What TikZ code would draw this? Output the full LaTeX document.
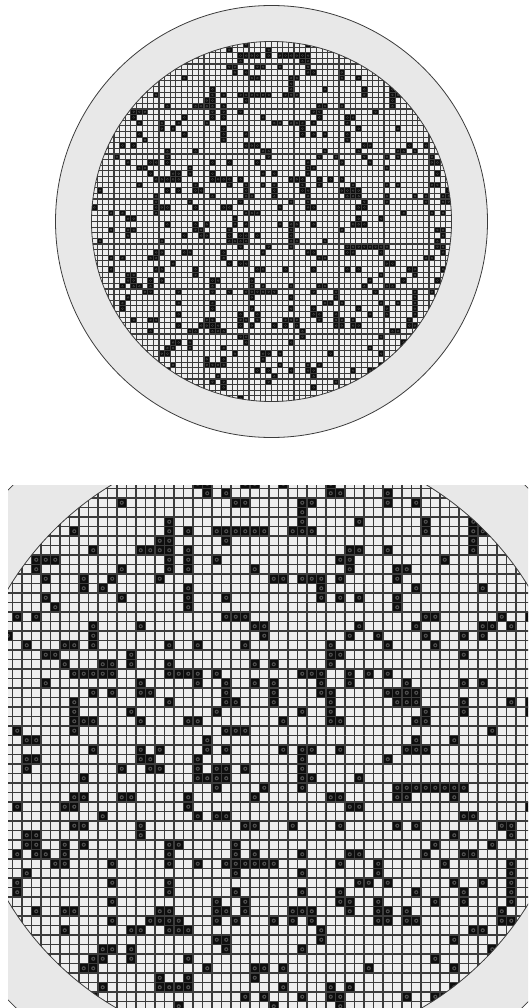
\documentclass[tikz,border=0pt]{standalone}
\definecolor{ringgray}{HTML}{E8E8E8}
\definecolor{cellgray}{HTML}{EEEEEE}
\definecolor{gridcol}{HTML}{3C3C3C}
\definecolor{dotcol}{HTML}{505050}
\tikzset{
  edgeline/.style={draw=gridcol, line width=0.8pt},
  badcell/.style={fill=black!95},
}
% #1 cx, #2 cy, #3 cell size, #4 grid line width factor
\newcommand\drawwafer[4]{%
  \begin{scope}[shift={(#1,#2)}]
    \pgfmathsetseed{7311}
    \foreach \j in {-32,...,31}{\expandafter\gdef\csname pc\j\endcsname{0}}
    \fill[ringgray] (0,0) circle ({38.4*#3});
    \draw[edgeline] (0,0) circle ({38.4*#3});
    \begin{scope}
      \clip (0,0) circle ({32*#3});
      \fill[cellgray] (0,0) circle ({32*#3});
      \foreach \i in {-32,...,31}{
        \gdef\prevJ{0}
        \foreach \j in {-32,...,31}{
          \pgfmathsetmacro\th{0.125+0.13*\prevJ+0.13*\csname pc\j\endcsname}
          \pgfmathsetmacro\rr{rnd}
          \ifdim\rr pt<\th pt
            \fill[badcell] ({\i*#3},{\j*#3}) rectangle ({(\i+1)*#3},{(\j+1)*#3});
            \fill[dotcol] ({(\i+0.5)*#3},{(\j+0.5)*#3}) circle ({0.22*#3});
            \fill[black] ({(\i+0.5)*#3},{(\j+0.5)*#3}) circle ({0.08*#3});
            \gdef\prevJ{1}\expandafter\gdef\csname pc\j\endcsname{1}
          \else
            \gdef\prevJ{0}\expandafter\gdef\csname pc\j\endcsname{0}
          \fi
        }
      }
      \foreach \k in {-32,...,32}{
        \draw[gridcol, line width={#4*#3 pt}] ({\k*#3},{-32*#3}) -- ({\k*#3},{32*#3});
        \draw[gridcol, line width={#4*#3 pt}] ({-32*#3},{\k*#3}) -- ({32*#3},{\k*#3});
      }
    \end{scope}
    \draw[edgeline] (0,0) circle ({32*#3});
  \end{scope}
}
\begin{document}
\begin{tikzpicture}[x=1pt,y=-1pt]
  \useasboundingbox[fill=white] (0,0) rectangle (528,1008);
  \drawwafer{271.5}{221.5}{5.625}{0.19}
  \begin{scope}
    \clip (8,485) rectangle (528,1008);
    \drawwafer{269}{745}{9.5}{0.13}
  \end{scope}
\end{tikzpicture}
\end{document}
